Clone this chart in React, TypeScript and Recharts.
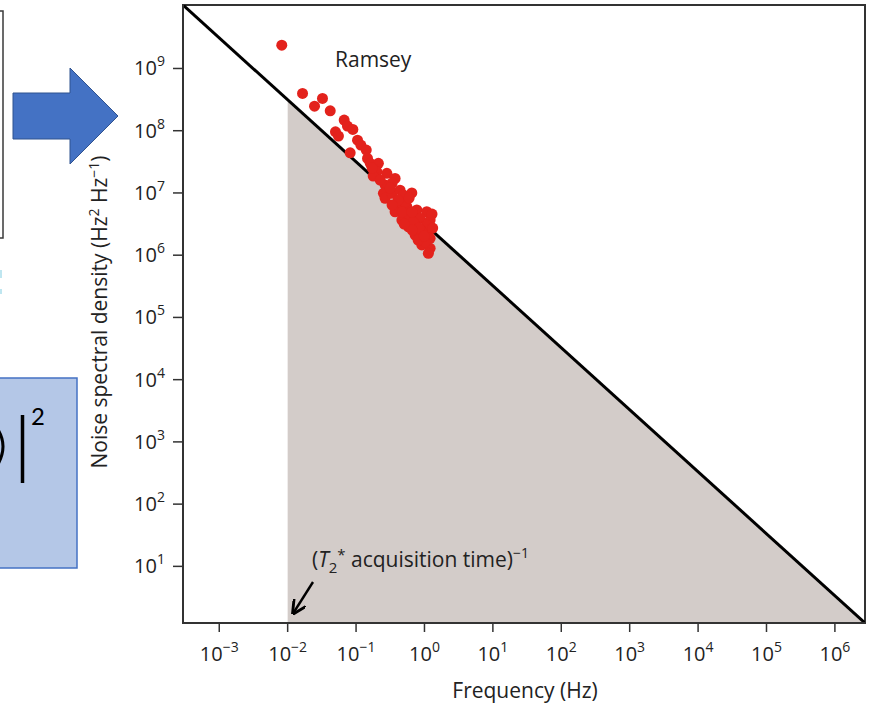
import React from 'react';
import {
  ComposedChart,
  XAxis,
  YAxis,
  Scatter,
  Line,
  Area,
  ReferenceArea,
} from 'recharts';

// axis limits (log10 of the frame edges)
const X_MIN = Math.pow(10, -3.53);
const X_MAX = Math.pow(10, 6.44);
const Y_MIN = Math.pow(10, 0.09);
const Y_MAX = Math.pow(10, 10.02);

const X_TICKS = [1e-3, 1e-2, 1e-1, 1e0, 1e1, 1e2, 1e3, 1e4, 1e5, 1e6];
const Y_TICKS = [1e1, 1e2, 1e3, 1e4, 1e5, 1e6, 1e7, 1e8, 1e9];

// Ramsey measurements: frequency (Hz) and noise spectral density (Hz^2/Hz)
const RAMSEY_F = [
  0.0082, 0.0165, 0.0323, 0.0247, 0.0419, 0.067, 0.0748, 0.0897, 0.05, 0.0553,
  0.105, 0.1175, 0.082, 0.147, 0.161, 0.212, 0.201, 0.282, 0.372, 0.266,
  0.251, 0.266, 0.333, 0.44, 0.493, 0.653, 0.394, 0.372, 0.552, 0.773,
  1.08, 0.467, 0.617, 0.863, 1.21, 0.583, 0.773, 1.08, 0.73, 1.14,
  1.21, 0.914, 1.21, 1.14, 0.178, 0.337, 0.521, 0.682, 0.925, 1.02,
  0.412, 0.315, 0.807, 0.225, 0.172, 0.472, 0.66, 0.836, 0.99, 0.66,
  0.505, 1.29, 1.32, 0.597, 0.336, 0.141,
];
const RAMSEY_S = [
  2.37e9, 3.97e8, 3.3e8, 2.48e8, 2.09e8, 1.48e8, 1.19e8, 1.05e8, 9.6e7, 8.2e7,
  7.06e7, 5.87e7, 4.42e7, 3.59e7, 2.99e7, 2.99e7, 2.19e7, 2.07e7, 1.71e7, 1.34e7,
  9.86e6, 8.19e6, 9.86e6, 1.11e7, 9.25e6, 1.0e7, 6.4e6, 4.99e6, 6.0e6, 5.32e6,
  4.99e6, 3.67e6, 4.15e6, 3.91e6, 3.67e6, 2.86e6, 2.86e6, 3.05e6, 2.11e6, 2.38e6,
  1.87e6, 1.46e6, 1.29e6, 1.07e6, 1.87e7, 1.44e7, 7.1e6, 3.41e6, 2.35e6, 1.63e6,
  7.7e6, 1.2e7, 1.75e6, 1.61e7, 2.51e7, 4.93e6, 4.93e6, 2.73e6, 2.03e6, 2.54e6,
  3.17e6, 4.58e6, 2.73e6, 8.28e6, 6.4e6, 4.89e7,
];

// 1/f bound running corner to corner
const BOUND_F = [X_MIN, X_MAX];
const BOUND_S = [Y_MAX, Y_MIN];

// region above (T2* acquisition time)^-1
const SHADE_F = [0.01, X_MAX];
const SHADE_S = [3.1e8, Y_MIN];

const ramsey = RAMSEY_F.map((f, i) => ({ f, s: RAMSEY_S[i] }));
const bound = BOUND_F.map((f, i) => ({ f, s: BOUND_S[i] }));
const shade = SHADE_F.map((f, i) => ({ f, s: SHADE_S[i] }));

const FONT = '"Open Sans", "Noto Sans", sans-serif';
const INK = '#222';
const AXIS = '#333';

const expLabel = (v: number) => {
  const e = Math.round(Math.log10(v));
  return e < 0 ? `\u2212${-e}` : `${e}`;
};

const XTick = ({ x, y, payload }: any) => (
  <text x={x} y={y + 27} textAnchor="middle" fontFamily={FONT} fontSize={20} fill={INK}>
    <tspan>10</tspan>
    <tspan dy={-9} fontSize={14}>{expLabel(payload.value)}</tspan>
  </text>
);

const YTick = ({ x, y, payload }: any) => (
  <text x={x} y={y + 7} textAnchor="end" fontFamily={FONT} fontSize={20} fill={INK}>
    <tspan>10</tspan>
    <tspan dy={-9} fontSize={14}>{expLabel(payload.value)}</tspan>
  </text>
);

const Dot = (props: any) => <circle cx={props.cx} cy={props.cy} r={5.5} fill="#e3221c" />;

// slide fragments sitting left of the plot
const SlideBits = () => (
  <svg width={871} height={704} style={{ position: 'absolute', left: 0, top: 0 }}>
    <rect x={-10} y={11} width={13} height={227} fill="#fff" stroke="#3a3a3a" strokeWidth={1.5} />
    <rect x={0} y={270} width={2} height={8} fill="#bfe6f0" />
    <rect x={0} y={289} width={2} height={5} fill="#bfe6f0" />
    <polygon
      points="13,93 70,93 70,68 118,116 70,164 70,139 13,139"
      fill="#4472c4"
      stroke="#2f528f"
      strokeWidth={1}
    />
    <rect x={-5} y={378} width={82} height={190} fill="#b4c7e7" stroke="#4472c4" strokeWidth={1.5} />
    <path d="M -3 428 Q 9 446 -3 466" fill="none" stroke="#000" strokeWidth={3} />
    <line x1={22.5} y1={415} x2={22.5} y2={483} stroke="#000" strokeWidth={3.5} />
    <text x={31} y={425} fontFamily="Calibri, Carlito, 'Liberation Sans', sans-serif" fontSize={27} fill="#000">
      2
    </text>
  </svg>
);

const Notes = () => (
  <svg
    width={871}
    height={704}
    style={{ position: 'absolute', left: 0, top: 0, pointerEvents: 'none' }}
  >
    <defs>
      <marker id="head" viewBox="0 0 10 10" refX="8" refY="5" markerWidth="6" markerHeight="6" orient="auto">
        <path d="M0,0 L10,5 L0,10" fill="none" stroke="#000" strokeWidth={2} />
      </marker>
    </defs>
    <text x={335} y={67} fontFamily={FONT} fontSize={21} fill={INK}>
      Ramsey
    </text>
    <text x={312} y={567} fontFamily={FONT} fontSize={21} fill={INK}>
      <tspan>(</tspan>
      <tspan fontStyle="italic">T</tspan>
      <tspan dy={6} fontSize={15}>2</tspan>
      <tspan dy={-13} fontSize={15}>*</tspan>
      <tspan dy={7}> acquisition time)</tspan>
      <tspan dy={-9} fontSize={14}>{'\u22121'}</tspan>
    </text>
    <line x1={313} y1={582} x2={294} y2={612} stroke="#000" strokeWidth={2.4} markerEnd="url(#head)" />
    <text
      transform="translate(107, 312) rotate(-90)"
      textAnchor="middle"
      fontFamily={FONT}
      fontSize={21}
      fill={INK}
    >
      <tspan>Noise spectral density (Hz</tspan>
      <tspan dy={-8} fontSize={14}>2</tspan>
      <tspan dy={8}> Hz</tspan>
      <tspan dy={-8} fontSize={14}>{'\u22121'}</tspan>
      <tspan dy={8}>)</tspan>
    </text>
    <text x={525} y={698} textAnchor="middle" fontFamily={FONT} fontSize={21} fill={INK}>
      Frequency (Hz)
    </text>
  </svg>
);

export default function App() {
  return (
    <div style={{ position: 'absolute', left: 0, top: 0, width: 871, height: 704, background: '#fff' }}>
      <SlideBits />
      <div style={{ position: 'absolute', left: 0, top: 0 }}>
        <ComposedChart width={871} height={704} margin={{ top: 5, right: 6, bottom: 0, left: 0 }}>
          <XAxis
            dataKey="f"
            type="number"
            scale="log"
            domain={[X_MIN, X_MAX]}
            ticks={X_TICKS}
            allowDataOverflow
            height={81}
            tickSize={9}
            tick={<XTick />}
            axisLine={{ stroke: AXIS, strokeWidth: 2 }}
            tickLine={{ stroke: AXIS, strokeWidth: 1.5 }}
          />
          <YAxis
            dataKey="s"
            type="number"
            scale="log"
            domain={[Y_MIN, Y_MAX]}
            ticks={Y_TICKS}
            allowDataOverflow
            width={183}
            tickSize={10}
            tickMargin={8}
            tick={<YTick />}
            axisLine={{ stroke: AXIS, strokeWidth: 2 }}
            tickLine={{ stroke: AXIS, strokeWidth: 1.5 }}
          />
          <Area
            data={shade}
            dataKey="s"
            type="linear"
            baseValue={Y_MIN}
            stroke="none"
            fill="#d3ccc9"
            fillOpacity={1}
            isAnimationActive={false}
          />
          <Line
            data={bound}
            dataKey="s"
            type="linear"
            stroke="#000"
            strokeWidth={3}
            dot={false}
            isAnimationActive={false}
          />
          <Scatter data={ramsey} dataKey="s" shape={<Dot />} isAnimationActive={false} />
          <ReferenceArea
            x1={X_MIN}
            x2={X_MAX}
            y1={Y_MIN}
            y2={Y_MAX}
            fill="none"
            stroke={AXIS}
            strokeWidth={2}
            ifOverflow="visible"
          />
        </ComposedChart>
      </div>
      <Notes />
    </div>
  );
}
